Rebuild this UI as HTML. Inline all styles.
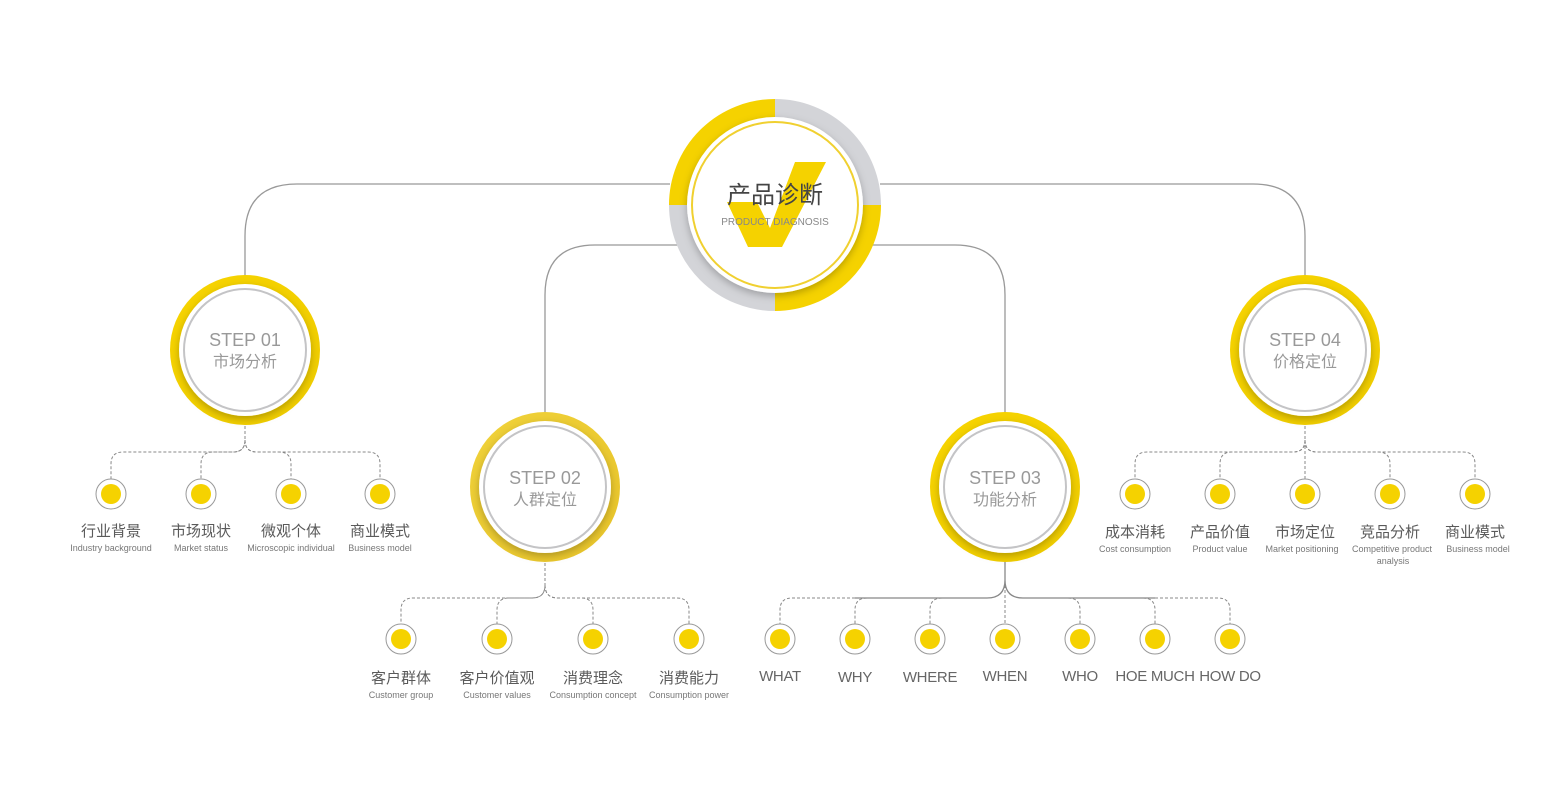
<!DOCTYPE html>
<html><head><meta charset="utf-8"><style>
html,body{margin:0;padding:0;background:#fff;}
svg{display:block;}
text{font-family:"Liberation Sans","Noto Sans CJK SC",sans-serif;}
</style></head><body>
<svg width="1550" height="800" viewBox="0 0 1550 800" xmlns="http://www.w3.org/2000/svg">
<defs>
<filter id="sh" x="-30%" y="-30%" width="160%" height="160%"><feDropShadow dx="0" dy="3" stdDeviation="4" flood-color="#000" flood-opacity="0.25"/></filter>
<linearGradient id="yg" x1="0" y1="0" x2="1" y2="1"><stop offset="0" stop-color="#f7d400"/><stop offset="1" stop-color="#efcc00"/></linearGradient>
<linearGradient id="yg2" x1="0" y1="0" x2="1" y2="1"><stop offset="0" stop-color="#f0d23a"/><stop offset="1" stop-color="#e8c42a"/></linearGradient>
</defs>
<g fill="none" stroke="#999" stroke-width="1.3">
<path d="M670 184 H297 Q245 184 245 236 V276"/>
<path d="M880 184 H1253 Q1305 184 1305 236 V276"/>
<path d="M680 245 H595 Q545 245 545 295 V413"/>
<path d="M870 245 H955 Q1005 245 1005 295 V413"/>
<path d="M1005 562 V580 Q1005 598 987 598 H855 M1005 580 Q1005 598 1023 598 H1155" stroke="#888"/>
</g>
<g fill="none" stroke="#888" stroke-width="1" stroke-dasharray="3 2">
<path d="M245 426 V440 Q245 452 233 452 H123 Q111 452 111 464 V479"/>
<path d="M245 440 Q245 452 233 452 H213 Q201 452 201 464 V479"/>
<path d="M245 440 Q245 452 257 452 H279 Q291 452 291 464 V479"/>
<path d="M245 440 Q245 452 257 452 H368 Q380 452 380 464 V479"/>
<path d="M545 563 V585 Q545 598 532 598 H413 Q401 598 401 610 V624"/>
<path d="M545 585 Q545 598 532 598 H509 Q497 598 497 610 V624"/>
<path d="M545 585 Q545 598 558 598 H581 Q593 598 593 610 V624"/>
<path d="M545 585 Q545 598 558 598 H677 Q689 598 689 610 V624"/>
<path d="M1305 426 V479 M1305 440 Q1305 452 1293 452 H1147 Q1135 452 1135 464 V479"/>
<path d="M1305 440 Q1305 452 1293 452 H1232 Q1220 452 1220 464 V479"/>
<path d="M1305 440 Q1305 452 1317 452 H1378 Q1390 452 1390 464 V479"/>
<path d="M1305 440 Q1305 452 1317 452 H1463 Q1475 452 1475 464 V479"/>
<path d="M1005 580 V624 M855 598 H792 Q780 598 780 610 V624 M867 598 Q855 598 855 610 V624 M942 598 Q930 598 930 610 V624"/>
<path d="M1068 598 Q1080 598 1080 610 V624 M1143 598 Q1155 598 1155 610 V624 M1155 598 H1218 Q1230 598 1230 610 V624"/>
</g>
<g fill="none" stroke-width="20">
<path d="M679 205 A96 96 0 0 1 775 109" stroke="#f5d200"/>
<path d="M775 109 A96 96 0 0 1 871 205" stroke="#d3d4d8"/>
<path d="M871 205 A96 96 0 0 1 775 301" stroke="#f5d200"/>
<path d="M775 301 A96 96 0 0 1 679 205" stroke="#d3d4d8"/>
</g>
<circle cx="775" cy="205" r="88" fill="#fff" filter="url(#sh)"/>
<circle cx="775" cy="205" r="83" fill="none" stroke="#f0d030" stroke-width="2"/>
<polygon points="727,202 757,202 770,228 795,162 826,162 782,247 748,247" fill="#f5d200"/>
<text x="775" y="203" font-size="24" fill="#444" text-anchor="middle">产品诊断</text>
<text x="775" y="225" font-size="10" fill="#888" text-anchor="middle">PRODUCT DIAGNOSIS</text>
<g>
<circle cx="245" cy="350" r="75" fill="url(#yg)"/>
<circle cx="245" cy="350" r="66" fill="#fff" filter="url(#sh)"/>
<circle cx="245" cy="350" r="61" fill="none" stroke="#c4c4c6" stroke-width="2"/>
<text x="245" y="346" font-size="18" fill="#999" text-anchor="middle">STEP 01</text>
<text x="245" y="367" font-size="16" fill="#999" text-anchor="middle">市场分析</text>

<circle cx="545" cy="487" r="75" fill="url(#yg2)"/>
<circle cx="545" cy="487" r="66" fill="#fff" filter="url(#sh)"/>
<circle cx="545" cy="487" r="61" fill="none" stroke="#c4c4c6" stroke-width="2"/>
<text x="545" y="484" font-size="18" fill="#999" text-anchor="middle">STEP 02</text>
<text x="545" y="505" font-size="16" fill="#999" text-anchor="middle">人群定位</text>

<circle cx="1005" cy="487" r="75" fill="url(#yg)"/>
<circle cx="1005" cy="487" r="66" fill="#fff" filter="url(#sh)"/>
<circle cx="1005" cy="487" r="61" fill="none" stroke="#c4c4c6" stroke-width="2"/>
<text x="1005" y="484" font-size="18" fill="#999" text-anchor="middle">STEP 03</text>
<text x="1005" y="505" font-size="16" fill="#999" text-anchor="middle">功能分析</text>

<circle cx="1305" cy="350" r="75" fill="url(#yg)"/>
<circle cx="1305" cy="350" r="66" fill="#fff" filter="url(#sh)"/>
<circle cx="1305" cy="350" r="61" fill="none" stroke="#c4c4c6" stroke-width="2"/>
<text x="1305" y="346" font-size="18" fill="#999" text-anchor="middle">STEP 04</text>
<text x="1305" y="367" font-size="16" fill="#999" text-anchor="middle">价格定位</text>
</g>
<g stroke="#999" stroke-width="1" fill="#fff">
<circle cx="111" cy="494" r="15"/><circle cx="201" cy="494" r="15"/><circle cx="291" cy="494" r="15"/><circle cx="380" cy="494" r="15"/>
<circle cx="1135" cy="494" r="15"/><circle cx="1220" cy="494" r="15"/><circle cx="1305" cy="494" r="15"/><circle cx="1390" cy="494" r="15"/><circle cx="1475" cy="494" r="15"/>
<circle cx="401" cy="639" r="15"/><circle cx="497" cy="639" r="15"/><circle cx="593" cy="639" r="15"/><circle cx="689" cy="639" r="15"/>
<circle cx="780" cy="639" r="15"/><circle cx="855" cy="639" r="15"/><circle cx="930" cy="639" r="15"/><circle cx="1005" cy="639" r="15"/><circle cx="1080" cy="639" r="15"/><circle cx="1155" cy="639" r="15"/><circle cx="1230" cy="639" r="15"/>
</g>
<g fill="#f5d200">
<circle cx="111" cy="494" r="10"/><circle cx="201" cy="494" r="10"/><circle cx="291" cy="494" r="10"/><circle cx="380" cy="494" r="10"/>
<circle cx="1135" cy="494" r="10"/><circle cx="1220" cy="494" r="10"/><circle cx="1305" cy="494" r="10"/><circle cx="1390" cy="494" r="10"/><circle cx="1475" cy="494" r="10"/>
<circle cx="401" cy="639" r="10"/><circle cx="497" cy="639" r="10"/><circle cx="593" cy="639" r="10"/><circle cx="689" cy="639" r="10"/>
<circle cx="780" cy="639" r="10"/><circle cx="855" cy="639" r="10"/><circle cx="930" cy="639" r="10"/><circle cx="1005" cy="639" r="10"/><circle cx="1080" cy="639" r="10"/><circle cx="1155" cy="639" r="10"/><circle cx="1230" cy="639" r="10"/>
</g>
<g text-anchor="middle" fill="#5a5a5a">
<g font-size="15">
<text x="111" y="536">行业背景</text><text x="201" y="536">市场现状</text><text x="291" y="536">微观个体</text><text x="380" y="536">商业模式</text>
<text x="1135" y="537">成本消耗</text><text x="1220" y="537">产品价值</text><text x="1305" y="537">市场定位</text><text x="1390" y="537">竞品分析</text><text x="1475" y="537">商业模式</text>
<text x="401" y="683">客户群体</text><text x="497" y="683">客户价值观</text><text x="593" y="683">消费理念</text><text x="689" y="683">消费能力</text>
</g>
<g font-size="15" fill="#666" letter-spacing="-0.3">
<text x="780" y="681">WHAT</text><text x="855" y="682">WHY</text><text x="930" y="682">WHERE</text><text x="1005" y="681">WHEN</text><text x="1080" y="681">WHO</text><text x="1155" y="681">HOE MUCH</text><text x="1230" y="681">HOW DO</text>
</g>
<g font-size="9" fill="#777">
<text x="111" y="551">Industry background</text><text x="201" y="551">Market status</text><text x="291" y="551">Microscopic individual</text><text x="380" y="551">Business model</text>
<text x="1135" y="552">Cost consumption</text><text x="1220" y="552">Product value</text><text x="1302" y="552">Market positioning</text><text x="1392" y="552">Competitive product</text><text x="1393" y="564">analysis</text><text x="1478" y="552">Business model</text>
<text x="401" y="698">Customer group</text><text x="497" y="698">Customer values</text><text x="593" y="698">Consumption concept</text><text x="689" y="698">Consumption power</text>
</g>
</g>
</svg>
</body></html>
